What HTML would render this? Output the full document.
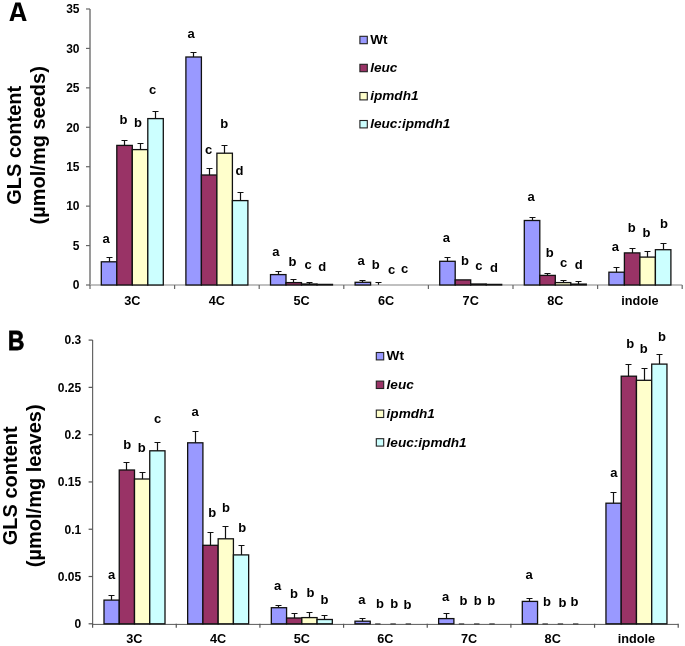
<!DOCTYPE html>
<html><head><meta charset="utf-8"><title>GLS content</title>
<style>
html,body{margin:0;padding:0;background:#fff;}
body{width:685px;height:646px;overflow:hidden;}
svg{display:block;}
text{font-family:"Liberation Sans", sans-serif;fill:#000;}
svg{will-change:transform;}
.t{font-size:12px;font-weight:bold;}
.lg{font-size:13.6px;font-weight:bold;}
.xl{font-size:12.7px;font-weight:bold;}
.sg{font-size:13px;font-weight:bold;}
.it{font-style:italic;}
.yt{font-size:20px;font-weight:bold;}
.pl{font-size:27px;font-weight:bold;}
</style></head><body>
<svg width="685" height="646" viewBox="0 0 685 646">
<rect width="685" height="646" fill="#fff"/>
<line x1="90" y1="9" x2="90" y2="285.5" stroke="#9a9a9a" stroke-width="2"/>
<line x1="90" y1="285" x2="682.2" y2="285" stroke="#ababab" stroke-width="1.6"/>
<rect x="101.3" y="261.8" width="15.5" height="23.2" fill="#9999ff" stroke="#111" stroke-width="1.3"/>
<path d="M109.5 261.8V257.5M106.5 257.5H112.5" stroke="#111" stroke-width="1.2" fill="none"/>
<rect x="116.8" y="145.4" width="15.5" height="139.6" fill="#993366" stroke="#111" stroke-width="1.3"/>
<path d="M124.5 145.4V140.5M121.5 140.5H127.5" stroke="#111" stroke-width="1.2" fill="none"/>
<rect x="132.3" y="149.6" width="15.5" height="135.4" fill="#ffffcc" stroke="#111" stroke-width="1.3"/>
<path d="M140.5 149.6V143.5M137.5 143.5H143.5" stroke="#111" stroke-width="1.2" fill="none"/>
<rect x="147.8" y="118.6" width="15.5" height="166.4" fill="#ccffff" stroke="#111" stroke-width="1.3"/>
<path d="M155.5 118.6V111.5M152.5 111.5H158.5" stroke="#111" stroke-width="1.2" fill="none"/>
<rect x="185.9" y="57" width="15.5" height="228" fill="#9999ff" stroke="#111" stroke-width="1.3"/>
<path d="M193.5 57V52.5M190.5 52.5H196.5" stroke="#111" stroke-width="1.2" fill="none"/>
<rect x="201.4" y="175" width="15.5" height="110" fill="#993366" stroke="#111" stroke-width="1.3"/>
<path d="M209.5 175V168.5M206.5 168.5H212.5" stroke="#111" stroke-width="1.2" fill="none"/>
<rect x="216.9" y="153.2" width="15.5" height="131.8" fill="#ffffcc" stroke="#111" stroke-width="1.3"/>
<path d="M224.5 153.2V145.5M221.5 145.5H227.5" stroke="#111" stroke-width="1.2" fill="none"/>
<rect x="232.4" y="200.6" width="15.5" height="84.4" fill="#ccffff" stroke="#111" stroke-width="1.3"/>
<path d="M240.5 200.6V192.5M237.5 192.5H243.5" stroke="#111" stroke-width="1.2" fill="none"/>
<rect x="270.5" y="274.6" width="15.5" height="10.4" fill="#9999ff" stroke="#111" stroke-width="1.3"/>
<path d="M278.5 274.6V271.5M275.5 271.5H281.5" stroke="#111" stroke-width="1.2" fill="none"/>
<rect x="286" y="282.6" width="15.5" height="2.4" fill="#993366" stroke="#111" stroke-width="1.3"/>
<path d="M293.5 282.6V279.5M290.5 279.5H296.5" stroke="#111" stroke-width="1.2" fill="none"/>
<rect x="301.5" y="284" width="15.5" height="1" fill="#ffffcc" stroke="#111" stroke-width="1.3"/>
<path d="M309.5 284V282.5M306.5 282.5H312.5" stroke="#111" stroke-width="1.2" fill="none"/>
<rect x="317" y="284.4" width="15.5" height="0.6" fill="#ccffff" stroke="#111" stroke-width="1.3"/>
<rect x="355.1" y="282.3" width="15.5" height="2.7" fill="#9999ff" stroke="#111" stroke-width="1.3"/>
<path d="M362.5 282.3V280.5M359.5 280.5H365.5" stroke="#111" stroke-width="1.2" fill="none"/>
<path d="M378.5 284.8V282.5M375.5 282.5H381.5" stroke="#111" stroke-width="1.2" fill="none"/>
<rect x="439.7" y="261.3" width="15.5" height="23.7" fill="#9999ff" stroke="#111" stroke-width="1.3"/>
<path d="M447.5 261.3V257.5M444.5 257.5H450.5" stroke="#111" stroke-width="1.2" fill="none"/>
<rect x="455.2" y="279.9" width="15.5" height="5.1" fill="#993366" stroke="#111" stroke-width="1.3"/>
<rect x="470.7" y="284" width="15.5" height="1" fill="#ffffcc" stroke="#111" stroke-width="1.3"/>
<rect x="486.2" y="284.4" width="15.5" height="0.6" fill="#ccffff" stroke="#111" stroke-width="1.3"/>
<rect x="524.3" y="220.5" width="15.5" height="64.5" fill="#9999ff" stroke="#111" stroke-width="1.3"/>
<path d="M532.5 220.5V217.5M529.5 217.5H535.5" stroke="#111" stroke-width="1.2" fill="none"/>
<rect x="539.8" y="275.4" width="15.5" height="9.6" fill="#993366" stroke="#111" stroke-width="1.3"/>
<path d="M547.5 275.4V273.5M544.5 273.5H550.5" stroke="#111" stroke-width="1.2" fill="none"/>
<rect x="555.3" y="282.6" width="15.5" height="2.4" fill="#ffffcc" stroke="#111" stroke-width="1.3"/>
<path d="M563.5 282.6V280.5M560.5 280.5H566.5" stroke="#111" stroke-width="1.2" fill="none"/>
<rect x="570.8" y="284.1" width="15.5" height="0.9" fill="#ccffff" stroke="#111" stroke-width="1.3"/>
<path d="M578.5 284.1V281.5M575.5 281.5H581.5" stroke="#111" stroke-width="1.2" fill="none"/>
<rect x="608.9" y="272.2" width="15.5" height="12.8" fill="#9999ff" stroke="#111" stroke-width="1.3"/>
<path d="M616.5 272.2V267.5M613.5 267.5H619.5" stroke="#111" stroke-width="1.2" fill="none"/>
<rect x="624.4" y="252.9" width="15.5" height="32.1" fill="#993366" stroke="#111" stroke-width="1.3"/>
<path d="M632.5 252.9V248.5M629.5 248.5H635.5" stroke="#111" stroke-width="1.2" fill="none"/>
<rect x="639.9" y="257.1" width="15.5" height="27.9" fill="#ffffcc" stroke="#111" stroke-width="1.3"/>
<path d="M647.5 257.1V251.5M644.5 251.5H650.5" stroke="#111" stroke-width="1.2" fill="none"/>
<rect x="655.4" y="249.7" width="15.5" height="35.3" fill="#ccffff" stroke="#111" stroke-width="1.3"/>
<path d="M663.5 249.7V243.5M660.5 243.5H666.5" stroke="#111" stroke-width="1.2" fill="none"/>
<line x1="86" y1="285" x2="90" y2="285" stroke="#666" stroke-width="1.2"/>
<text x="79.5" y="289.3" text-anchor="end" class="t">0</text>
<line x1="86" y1="245.57" x2="90" y2="245.57" stroke="#666" stroke-width="1.2"/>
<text x="79.5" y="249.87" text-anchor="end" class="t">5</text>
<line x1="86" y1="206.14" x2="90" y2="206.14" stroke="#666" stroke-width="1.2"/>
<text x="79.5" y="210.44" text-anchor="end" class="t">10</text>
<line x1="86" y1="166.71" x2="90" y2="166.71" stroke="#666" stroke-width="1.2"/>
<text x="79.5" y="171.01" text-anchor="end" class="t">15</text>
<line x1="86" y1="127.28" x2="90" y2="127.28" stroke="#666" stroke-width="1.2"/>
<text x="79.5" y="131.58" text-anchor="end" class="t">20</text>
<line x1="86" y1="87.85" x2="90" y2="87.85" stroke="#666" stroke-width="1.2"/>
<text x="79.5" y="92.15" text-anchor="end" class="t">25</text>
<line x1="86" y1="48.42" x2="90" y2="48.42" stroke="#666" stroke-width="1.2"/>
<text x="79.5" y="52.72" text-anchor="end" class="t">30</text>
<line x1="86" y1="8.99" x2="90" y2="8.99" stroke="#666" stroke-width="1.2"/>
<text x="79.5" y="13.29" text-anchor="end" class="t">35</text>
<line x1="90" y1="285" x2="90" y2="289" stroke="#666" stroke-width="1.2"/>
<line x1="174.6" y1="285" x2="174.6" y2="289" stroke="#666" stroke-width="1.2"/>
<line x1="259.2" y1="285" x2="259.2" y2="289" stroke="#666" stroke-width="1.2"/>
<line x1="343.8" y1="285" x2="343.8" y2="289" stroke="#666" stroke-width="1.2"/>
<line x1="428.4" y1="285" x2="428.4" y2="289" stroke="#666" stroke-width="1.2"/>
<line x1="513" y1="285" x2="513" y2="289" stroke="#666" stroke-width="1.2"/>
<line x1="597.6" y1="285" x2="597.6" y2="289" stroke="#666" stroke-width="1.2"/>
<line x1="682.2" y1="285" x2="682.2" y2="289" stroke="#666" stroke-width="1.2"/>
<text x="132.3" y="304.8" text-anchor="middle" class="xl">3C</text>
<text x="216.9" y="304.8" text-anchor="middle" class="xl">4C</text>
<text x="301.5" y="304.8" text-anchor="middle" class="xl">5C</text>
<text x="386.1" y="304.8" text-anchor="middle" class="xl">6C</text>
<text x="470.7" y="304.8" text-anchor="middle" class="xl">7C</text>
<text x="555.3" y="304.8" text-anchor="middle" class="xl">8C</text>
<text x="639.9" y="304.8" text-anchor="middle" class="xl">indole</text>
<text x="106.2" y="242.5" text-anchor="middle" class="sg">a</text>
<text x="123.4" y="124" text-anchor="middle" class="sg">b</text>
<text x="138.1" y="127.1" text-anchor="middle" class="sg">b</text>
<text x="152.5" y="93.6" text-anchor="middle" class="sg">c</text>
<text x="191" y="37.7" text-anchor="middle" class="sg">a</text>
<text x="208.5" y="154.2" text-anchor="middle" class="sg">c</text>
<text x="224.2" y="128.3" text-anchor="middle" class="sg">b</text>
<text x="239.4" y="175" text-anchor="middle" class="sg">d</text>
<text x="275.9" y="255.7" text-anchor="middle" class="sg">a</text>
<text x="292.4" y="266.4" text-anchor="middle" class="sg">b</text>
<text x="308" y="269.3" text-anchor="middle" class="sg">c</text>
<text x="322.2" y="271.1" text-anchor="middle" class="sg">d</text>
<text x="361" y="265.2" text-anchor="middle" class="sg">a</text>
<text x="375.8" y="268.5" text-anchor="middle" class="sg">b</text>
<text x="391.5" y="273.6" text-anchor="middle" class="sg">c</text>
<text x="404.6" y="272.5" text-anchor="middle" class="sg">c</text>
<text x="446.4" y="241.6" text-anchor="middle" class="sg">a</text>
<text x="465" y="264.7" text-anchor="middle" class="sg">b</text>
<text x="478.8" y="269.6" text-anchor="middle" class="sg">c</text>
<text x="493.9" y="271.5" text-anchor="middle" class="sg">d</text>
<text x="531" y="201.1" text-anchor="middle" class="sg">a</text>
<text x="549.8" y="256.8" text-anchor="middle" class="sg">b</text>
<text x="563.5" y="266.5" text-anchor="middle" class="sg">c</text>
<text x="578.8" y="269.3" text-anchor="middle" class="sg">d</text>
<text x="615.4" y="251.2" text-anchor="middle" class="sg">a</text>
<text x="631.7" y="231.7" text-anchor="middle" class="sg">b</text>
<text x="646.6" y="237" text-anchor="middle" class="sg">b</text>
<text x="664" y="228.3" text-anchor="middle" class="sg">b</text>
<rect x="359.9" y="36.3" width="7.4" height="7.4" fill="#9999ff" stroke="#222" stroke-width="1.1"/>
<text x="370.2" y="44.1" class="lg">Wt</text>
<rect x="359.9" y="64.3" width="7.4" height="7.4" fill="#993366" stroke="#222" stroke-width="1.1"/>
<text x="370.2" y="72.1" class="lg it">leuc</text>
<rect x="359.9" y="92.5" width="7.4" height="7.4" fill="#ffffcc" stroke="#222" stroke-width="1.1"/>
<text x="370.2" y="100.3" class="lg it">ipmdh1</text>
<rect x="359.9" y="120.5" width="7.4" height="7.4" fill="#ccffff" stroke="#222" stroke-width="1.1"/>
<text x="370.2" y="128.3" class="lg it">leuc:ipmdh1</text>
<text transform="translate(20.8 145.3) rotate(-90)" text-anchor="middle" class="yt">GLS content</text>
<text transform="translate(45 145.3) rotate(-90)" text-anchor="middle" class="yt">(µmol/mg seeds)</text>
<path fill="#000" fill-rule="evenodd" d="M9.4 20.9L15.3 2.5H20.5L26.7 20.9H22.6L21.4 16.9H14.5L13.4 20.9ZM15.4 13.9H20.4L17.9 5.6Z"/>
<line x1="92.6" y1="340.1" x2="92.6" y2="624.3" stroke="#666666" stroke-width="1.2"/>
<line x1="92.6" y1="624.4" x2="678.22" y2="624.4" stroke="#5a5a5a" stroke-width="1"/>
<rect x="104" y="600.1" width="15.25" height="23.7" fill="#9999ff" stroke="#111" stroke-width="1.3"/>
<path d="M111.5 600.1V595.5M108.5 595.5H114.5" stroke="#111" stroke-width="1.2" fill="none"/>
<rect x="119.25" y="470" width="15.25" height="153.8" fill="#993366" stroke="#111" stroke-width="1.3"/>
<path d="M126.5 470V462.5M123.5 462.5H129.5" stroke="#111" stroke-width="1.2" fill="none"/>
<rect x="134.5" y="479" width="15.25" height="144.8" fill="#ffffcc" stroke="#111" stroke-width="1.3"/>
<path d="M142.5 479V472.5M139.5 472.5H145.5" stroke="#111" stroke-width="1.2" fill="none"/>
<rect x="149.75" y="450.8" width="15.25" height="173" fill="#ccffff" stroke="#111" stroke-width="1.3"/>
<path d="M157.5 450.8V442.5M154.5 442.5H160.5" stroke="#111" stroke-width="1.2" fill="none"/>
<rect x="187.66" y="442.8" width="15.25" height="181" fill="#9999ff" stroke="#111" stroke-width="1.3"/>
<path d="M195.5 442.8V431.5M192.5 431.5H198.5" stroke="#111" stroke-width="1.2" fill="none"/>
<rect x="202.91" y="545.3" width="15.25" height="78.5" fill="#993366" stroke="#111" stroke-width="1.3"/>
<path d="M210.5 545.3V532.5M207.5 532.5H213.5" stroke="#111" stroke-width="1.2" fill="none"/>
<rect x="218.16" y="538.8" width="15.25" height="85" fill="#ffffcc" stroke="#111" stroke-width="1.3"/>
<path d="M225.5 538.8V526.5M222.5 526.5H228.5" stroke="#111" stroke-width="1.2" fill="none"/>
<rect x="233.41" y="554.9" width="15.25" height="68.9" fill="#ccffff" stroke="#111" stroke-width="1.3"/>
<path d="M241.5 554.9V545.5M238.5 545.5H244.5" stroke="#111" stroke-width="1.2" fill="none"/>
<rect x="271.32" y="607.7" width="15.25" height="16.1" fill="#9999ff" stroke="#111" stroke-width="1.3"/>
<path d="M278.5 607.7V605.5M275.5 605.5H281.5" stroke="#111" stroke-width="1.2" fill="none"/>
<rect x="286.57" y="618" width="15.25" height="5.8" fill="#993366" stroke="#111" stroke-width="1.3"/>
<path d="M294.5 618V613.5M291.5 613.5H297.5" stroke="#111" stroke-width="1.2" fill="none"/>
<rect x="301.82" y="617.6" width="15.25" height="6.2" fill="#ffffcc" stroke="#111" stroke-width="1.3"/>
<path d="M309.5 617.6V612.5M306.5 612.5H312.5" stroke="#111" stroke-width="1.2" fill="none"/>
<rect x="317.07" y="619.5" width="15.25" height="4.3" fill="#ccffff" stroke="#111" stroke-width="1.3"/>
<path d="M324.5 619.5V615.5M321.5 615.5H327.5" stroke="#111" stroke-width="1.2" fill="none"/>
<rect x="354.98" y="621.2" width="15.25" height="2.6" fill="#9999ff" stroke="#111" stroke-width="1.3"/>
<path d="M362.5 621.2V618.5M359.5 618.5H365.5" stroke="#111" stroke-width="1.2" fill="none"/>
<line x1="375.15" y1="624" x2="380.55" y2="624" stroke="#444" stroke-width="1.4"/>
<line x1="390.4" y1="624" x2="395.8" y2="624" stroke="#444" stroke-width="1.4"/>
<line x1="405.65" y1="624" x2="411.05" y2="624" stroke="#444" stroke-width="1.4"/>
<rect x="438.64" y="618.6" width="15.25" height="5.2" fill="#9999ff" stroke="#111" stroke-width="1.3"/>
<path d="M446.5 618.6V613.5M443.5 613.5H449.5" stroke="#111" stroke-width="1.2" fill="none"/>
<line x1="458.81" y1="624" x2="464.21" y2="624" stroke="#444" stroke-width="1.4"/>
<line x1="474.06" y1="624" x2="479.46" y2="624" stroke="#444" stroke-width="1.4"/>
<line x1="489.31" y1="624" x2="494.71" y2="624" stroke="#444" stroke-width="1.4"/>
<rect x="522.3" y="601.4" width="15.25" height="22.4" fill="#9999ff" stroke="#111" stroke-width="1.3"/>
<path d="M529.5 601.4V598.5M526.5 598.5H532.5" stroke="#111" stroke-width="1.2" fill="none"/>
<line x1="542.47" y1="624" x2="547.88" y2="624" stroke="#444" stroke-width="1.4"/>
<line x1="557.72" y1="624" x2="563.12" y2="624" stroke="#444" stroke-width="1.4"/>
<line x1="572.97" y1="624" x2="578.38" y2="624" stroke="#444" stroke-width="1.4"/>
<rect x="605.96" y="503.2" width="15.25" height="120.6" fill="#9999ff" stroke="#111" stroke-width="1.3"/>
<path d="M613.5 503.2V492.5M610.5 492.5H616.5" stroke="#111" stroke-width="1.2" fill="none"/>
<rect x="621.21" y="376.2" width="15.25" height="247.6" fill="#993366" stroke="#111" stroke-width="1.3"/>
<path d="M628.5 376.2V364.5M625.5 364.5H631.5" stroke="#111" stroke-width="1.2" fill="none"/>
<rect x="636.46" y="380.3" width="15.25" height="243.5" fill="#ffffcc" stroke="#111" stroke-width="1.3"/>
<path d="M644.5 380.3V368.5M641.5 368.5H647.5" stroke="#111" stroke-width="1.2" fill="none"/>
<rect x="651.71" y="364.1" width="15.25" height="259.7" fill="#ccffff" stroke="#111" stroke-width="1.3"/>
<path d="M659.5 364.1V354.5M656.5 354.5H662.5" stroke="#111" stroke-width="1.2" fill="none"/>
<line x1="88.6" y1="623.8" x2="92.6" y2="623.8" stroke="#555" stroke-width="1.2"/>
<text x="81.2" y="628.1" text-anchor="end" class="t">0</text>
<line x1="88.6" y1="576.51" x2="92.6" y2="576.51" stroke="#555" stroke-width="1.2"/>
<text x="81.2" y="580.81" text-anchor="end" class="t">0.05</text>
<line x1="88.6" y1="529.23" x2="92.6" y2="529.23" stroke="#555" stroke-width="1.2"/>
<text x="81.2" y="533.53" text-anchor="end" class="t">0.1</text>
<line x1="88.6" y1="481.94" x2="92.6" y2="481.94" stroke="#555" stroke-width="1.2"/>
<text x="81.2" y="486.24" text-anchor="end" class="t">0.15</text>
<line x1="88.6" y1="434.66" x2="92.6" y2="434.66" stroke="#555" stroke-width="1.2"/>
<text x="81.2" y="438.96" text-anchor="end" class="t">0.2</text>
<line x1="88.6" y1="387.37" x2="92.6" y2="387.37" stroke="#555" stroke-width="1.2"/>
<text x="81.2" y="391.67" text-anchor="end" class="t">0.25</text>
<line x1="88.6" y1="340.09" x2="92.6" y2="340.09" stroke="#555" stroke-width="1.2"/>
<text x="81.2" y="344.39" text-anchor="end" class="t">0.3</text>
<line x1="92.6" y1="623.8" x2="92.6" y2="627.8" stroke="#555" stroke-width="1.2"/>
<line x1="176.26" y1="623.8" x2="176.26" y2="627.8" stroke="#555" stroke-width="1.2"/>
<line x1="259.92" y1="623.8" x2="259.92" y2="627.8" stroke="#555" stroke-width="1.2"/>
<line x1="343.58" y1="623.8" x2="343.58" y2="627.8" stroke="#555" stroke-width="1.2"/>
<line x1="427.24" y1="623.8" x2="427.24" y2="627.8" stroke="#555" stroke-width="1.2"/>
<line x1="510.9" y1="623.8" x2="510.9" y2="627.8" stroke="#555" stroke-width="1.2"/>
<line x1="594.56" y1="623.8" x2="594.56" y2="627.8" stroke="#555" stroke-width="1.2"/>
<line x1="678.22" y1="623.8" x2="678.22" y2="627.8" stroke="#555" stroke-width="1.2"/>
<text x="134.43" y="643.4" text-anchor="middle" class="xl">3C</text>
<text x="218.09" y="643.4" text-anchor="middle" class="xl">4C</text>
<text x="301.75" y="643.4" text-anchor="middle" class="xl">5C</text>
<text x="385.41" y="643.4" text-anchor="middle" class="xl">6C</text>
<text x="469.07" y="643.4" text-anchor="middle" class="xl">7C</text>
<text x="552.73" y="643.4" text-anchor="middle" class="xl">8C</text>
<text x="636.39" y="643.4" text-anchor="middle" class="xl">indole</text>
<text x="111.5" y="578.7" text-anchor="middle" class="sg">a</text>
<text x="127.3" y="449.2" text-anchor="middle" class="sg">b</text>
<text x="141.7" y="451.7" text-anchor="middle" class="sg">b</text>
<text x="157.6" y="423" text-anchor="middle" class="sg">c</text>
<text x="195" y="416" text-anchor="middle" class="sg">a</text>
<text x="212.2" y="516.6" text-anchor="middle" class="sg">b</text>
<text x="226.1" y="511.8" text-anchor="middle" class="sg">b</text>
<text x="242.3" y="532" text-anchor="middle" class="sg">b</text>
<text x="277.5" y="589.7" text-anchor="middle" class="sg">a</text>
<text x="294" y="598.2" text-anchor="middle" class="sg">b</text>
<text x="310.5" y="596.6" text-anchor="middle" class="sg">b</text>
<text x="324.6" y="603.6" text-anchor="middle" class="sg">b</text>
<text x="361.9" y="604.1" text-anchor="middle" class="sg">a</text>
<text x="380" y="608.2" text-anchor="middle" class="sg">b</text>
<text x="394.2" y="608.2" text-anchor="middle" class="sg">b</text>
<text x="407.6" y="608.7" text-anchor="middle" class="sg">b</text>
<text x="445.7" y="601.2" text-anchor="middle" class="sg">a</text>
<text x="463.4" y="605.4" text-anchor="middle" class="sg">b</text>
<text x="477.8" y="605.4" text-anchor="middle" class="sg">b</text>
<text x="491.2" y="605.4" text-anchor="middle" class="sg">b</text>
<text x="529.2" y="579.4" text-anchor="middle" class="sg">a</text>
<text x="547" y="606.3" text-anchor="middle" class="sg">b</text>
<text x="562.6" y="607.3" text-anchor="middle" class="sg">b</text>
<text x="574.5" y="606.3" text-anchor="middle" class="sg">b</text>
<text x="613.9" y="477.3" text-anchor="middle" class="sg">a</text>
<text x="630.3" y="348.3" text-anchor="middle" class="sg">b</text>
<text x="643.8" y="353.2" text-anchor="middle" class="sg">b</text>
<text x="661.9" y="340.5" text-anchor="middle" class="sg">b</text>
<rect x="376.3" y="352.5" width="7.4" height="7.4" fill="#9999ff" stroke="#222" stroke-width="1.1"/>
<text x="386.6" y="360.3" class="lg">Wt</text>
<rect x="376.3" y="381.1" width="7.4" height="7.4" fill="#993366" stroke="#222" stroke-width="1.1"/>
<text x="386.6" y="388.9" class="lg it">leuc</text>
<rect x="376.3" y="410.1" width="7.4" height="7.4" fill="#ffffcc" stroke="#222" stroke-width="1.1"/>
<text x="386.6" y="417.9" class="lg it">ipmdh1</text>
<rect x="376.3" y="438.7" width="7.4" height="7.4" fill="#ccffff" stroke="#222" stroke-width="1.1"/>
<text x="386.6" y="446.5" class="lg it">leuc:ipmdh1</text>
<text transform="translate(17 485.8) rotate(-90)" text-anchor="middle" class="yt">GLS content</text>
<text transform="translate(41 485.8) rotate(-90)" text-anchor="middle" class="yt">(µmol/mg leaves)</text>
<text transform="translate(7.9 349.6) scale(0.84 1)" class="pl" stroke="#000" stroke-width="0.8">B</text>
</svg>
</body></html>
